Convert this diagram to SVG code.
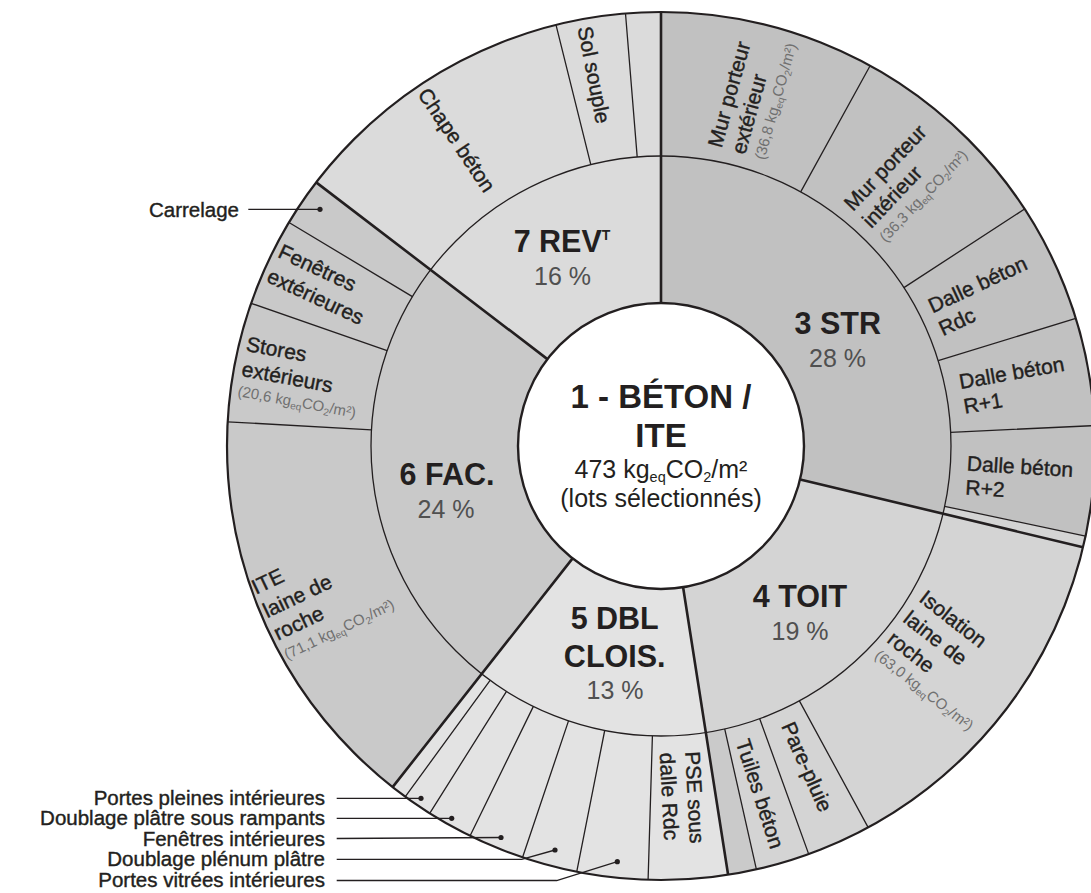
<svg xmlns="http://www.w3.org/2000/svg" width="1091" height="893" viewBox="0 0 1091 893">
<style>
text { font-family: "Liberation Sans", Arial, Helvetica, sans-serif; }
.s3 { fill:#c1c1c1; } .s4 { fill:#d4d4d4; } .s5 { fill:#e3e3e3; } .s6 { fill:#c9c9c9; } .s7 { fill:#dbdbdb; } .sx { fill:#cacaca; }
.ln { stroke:#231f20; stroke-width:1.3; fill:none; }
.tk { stroke:#231f20; stroke-width:2.6; fill:none; }
.ttl { font-size:30.5px; font-weight:bold; fill:#231f20; text-anchor:middle; }
.pct { font-size:25px; fill:#505050; text-anchor:middle; }
.lbl { font-size:21px; fill:#231f20; stroke:#231f20; stroke-width:0.4; }
.sm { font-size:15px; fill:#707070; stroke:none; }
.lg { font-size:20.5px; fill:#231f20; stroke:#231f20; stroke-width:0.4; text-anchor:end; }
.c1 { font-size:33px; font-weight:bold; fill:#231f20; text-anchor:middle; }
.c2 { font-size:25px; fill:#231f20; text-anchor:middle; }
.dot { fill:#231f20; }
</style>
<rect width="1091" height="893" fill="#ffffff"/>

<!-- outer ring segments -->
<g id="mur-ext"><path class="s3" d="M661 446 L661 12 A434 434 0 0 1 870.1 65.7 Z"/>
<g transform="translate(721.5 148.7) rotate(-74.5)"><text class="lbl" x="0" y="0">Mur porteur</text><text class="lbl" x="0" y="24.5">extérieur</text><text class="sm" x="0" y="44.5">(36,8 kg<tspan font-size="10" dy="3">eq</tspan><tspan dy="-3">CO</tspan><tspan font-size="10" dy="3">2</tspan><tspan dy="-3">/m²)</tspan></text></g></g>
<g id="mur-int"><path class="s3" d="M661 446 L870.1 65.7 A434 434 0 0 1 1024.6 209.0 Z"/>
<g transform="translate(853.1 211.9) rotate(-46.5)"><text class="lbl" x="0" y="0">Mur porteur</text><text class="lbl" x="0" y="25">intérieur</text><text class="sm" x="0" y="45">(36,3 kg<tspan font-size="10" dy="3">eq</tspan><tspan dy="-3">CO</tspan><tspan font-size="10" dy="3">2</tspan><tspan dy="-3">/m²)</tspan></text></g></g>
<g id="dalle-rdc"><path class="s3" d="M661 446 L1024.6 209.0 A434 434 0 0 1 1075.8 318.4 Z"/>
<g transform="translate(932.5 313.5) rotate(-25)"><text class="lbl" x="0" y="0">Dalle béton</text><text class="lbl" x="0" y="25">Rdc</text></g></g>
<g id="dalle-r1"><path class="s3" d="M661 446 L1075.8 318.4 A434 434 0 0 1 1094.5 425.6 Z"/>
<g transform="translate(960.6 389.1) rotate(-10)"><text class="lbl" x="0" y="0">Dalle béton</text><text class="lbl" x="0" y="25">R+1</text></g></g>
<g id="dalle-r2"><path class="s3" d="M661 446 L1094.5 425.6 A434 434 0 0 1 1085.5 536.2 Z"/>
<g transform="translate(966.5 470.5) rotate(3.5)"><text class="lbl" x="0" y="0">Dalle béton</text><text class="lbl" x="0" y="24">R+2</text></g></g>
<g id="str-sliver"><path class="s4" d="M661 446 L1085.5 536.2 A434 434 0 0 1 1083.0 547.3 Z"/></g>
<g id="isolation"><path class="s4" d="M661 446 L1083.0 547.3 A434 434 0 0 1 868.1 827.4 Z"/>
<g transform="translate(918.1 600.6) rotate(38)"><text class="lbl" x="0" y="0">Isolation</text><text class="lbl" x="0" y="26">laine de</text><text class="lbl" x="0" y="52">roche</text><text class="sm" x="0" y="72">(63,0 kg<tspan font-size="10" dy="3">eq</tspan><tspan dy="-3">CO</tspan><tspan font-size="10" dy="3">2</tspan><tspan dy="-3">/m²)</tspan></text></g></g>
<g id="pare-pluie"><path class="s4" d="M661 446 L868.1 827.4 A434 434 0 0 1 808.7 854.1 Z"/>
<g transform="translate(780.9 726.0) rotate(66)"><text class="lbl" x="0" y="0">Pare-pluie</text></g></g>
<g id="tuiles"><path class="s4" d="M661 446 L808.7 854.1 A434 434 0 0 1 756.4 869.4 Z"/>
<g transform="translate(735.6 742.0) rotate(72)"><text class="lbl" x="0" y="0">Tuiles béton</text></g></g>
<g id="toit-sliver"><path class="sx" d="M661 446 L756.4 869.4 A434 434 0 0 1 728.1 874.8 Z"/></g>
<g id="pse"><path class="s5" d="M661 446 L728.1 874.8 A434 434 0 0 1 648.1 879.8 Z"/>
<g transform="translate(685.2 751.7) rotate(87)"><text class="lbl" x="0" y="0">PSE sous</text><text class="lbl" x="0" y="25.5">dalle Rdc</text></g></g>
<g id="portes-vitrees"><path class="s5" d="M661 446 L648.1 879.8 A434 434 0 0 1 576.7 871.8 Z"/></g>
<g id="doublage-plenum"><path class="s5" d="M661 446 L576.7 871.8 A434 434 0 0 1 522.6 857.3 Z"/></g>
<g id="fenetres-int"><path class="s5" d="M661 446 L522.6 857.3 A434 434 0 0 1 470.1 835.7 Z"/></g>
<g id="doublage-rampants"><path class="s5" d="M661 446 L470.1 835.7 A434 434 0 0 1 429.7 813.3 Z"/></g>
<g id="portes-pleines"><path class="s5" d="M661 446 L429.7 813.3 A434 434 0 0 1 405.3 796.7 Z"/></g>
<g id="dbl-sliver"><path class="s5" d="M661 446 L405.3 796.7 A434 434 0 0 1 392.6 787.1 Z"/></g>
<g id="ite"><path class="s6" d="M661 446 L392.6 787.1 A434 434 0 0 1 227.7 421.8 Z"/>
<g transform="translate(256.1 594.8) rotate(-25.5)"><text class="lbl" x="0" y="0">ITE</text><text class="lbl" x="0" y="26">laine de</text><text class="lbl" x="0" y="51">roche</text><text class="sm" x="0" y="72">(71,1 kg<tspan font-size="10" dy="3">eq</tspan><tspan dy="-3">CO</tspan><tspan font-size="10" dy="3">2</tspan><tspan dy="-3">/m²)</tspan></text></g></g>
<g id="stores"><path class="s6" d="M661 446 L227.7 421.8 A434 434 0 0 1 251.1 303.3 Z"/>
<g transform="translate(245.3 350.7) rotate(10.5)"><text class="lbl" x="0" y="0">Stores</text><text class="lbl" x="0" y="25.5">extérieurs</text><text class="sm" x="0" y="46">(20,6 kg<tspan font-size="10" dy="3">eq</tspan><tspan dy="-3">CO</tspan><tspan font-size="10" dy="3">2</tspan><tspan dy="-3">/m²)</tspan></text></g></g>
<g id="fenetres-ext"><path class="s6" d="M661 446 L251.1 303.3 A434 434 0 0 1 289.0 222.5 Z"/>
<g transform="translate(276.8 256.8) rotate(25)"><text class="lbl" x="0" y="0">Fenêtres</text><text class="lbl" x="0" y="27">extérieures</text></g></g>
<g id="carrelage"><path class="s6" d="M661 446 L289.0 222.5 A434 434 0 0 1 316.2 182.4 Z"/></g>
<g id="chape"><path class="s7" d="M661 446 L316.2 182.4 A434 434 0 0 1 556.0 24.9 Z"/>
<g transform="translate(417.1 94.2) rotate(56)"><text class="lbl" x="0" y="0">Chape béton</text></g></g>
<g id="sol-souple"><path class="s7" d="M661 446 L556.0 24.9 A434 434 0 0 1 625.5 13.5 Z"/>
<g transform="translate(577.6 28.1) rotate(79)"><text class="lbl" x="0" y="0">Sol souple</text></g></g>
<g id="rev-sliver"><path class="s7" d="M661 446 L625.5 13.5 A434 434 0 0 1 661 12 Z"/></g>

<!-- inner ring sectors -->
<g id="str"><path class="s3" d="M661 446 L661 156 A290 290 0 0 1 943.0 513.7 Z"/>
<text class="ttl" x="837.7" y="334">3 STR</text><text class="pct" x="837.5" y="366.7">28 %</text></g>
<g id="toit"><path class="s4" d="M661 446 L943.0 513.7 A290 290 0 0 1 705.9 732.5 Z"/>
<text class="ttl" x="800" y="607">4 TOIT</text><text class="pct" x="800" y="640">19 %</text></g>
<g id="dbl"><path class="s5" d="M661 446 L705.9 732.5 A290 290 0 0 1 481.7 673.9 Z"/>
<text class="ttl" x="614.7" y="629">5 DBL</text><text class="ttl" x="614.7" y="667">CLOIS.</text><text class="pct" x="615" y="699">13 %</text></g>
<g id="fac"><path class="s6" d="M661 446 L481.7 673.9 A290 290 0 0 1 430.6 269.9 Z"/>
<text class="ttl" x="447" y="485">6 FAC.</text><text class="pct" x="446" y="518">24 %</text></g>
<g id="rev"><path class="s7" d="M661 446 L430.6 269.9 A290 290 0 0 1 661 156 Z"/>
<text class="ttl" x="562" y="252">7 REV<tspan font-size="14" dy="-12">T</tspan></text><text class="pct" x="562.5" y="285">16 %</text></g>

<!-- boundaries -->
<g id="boundaries">
<circle class="ln" cx="661" cy="446" r="290"/>
<circle cx="661" cy="446" r="434" fill="none" stroke="#231f20" stroke-width="2.2"/>
<path class="ln" d="M800.7 191.9 L870.1 65.7 M903.9 287.6 L1024.6 209.0 M938.2 360.7 L1075.8 318.4 M950.7 432.3 L1094.5 425.6 M944.6 506.3 L1085.5 536.2 M799.4 700.9 L868.1 827.4 M759.7 718.7 L808.7 854.1 M724.7 728.9 L756.4 869.4 M652.4 735.9 L648.1 879.8 M604.7 730.5 L576.7 871.8 M568.5 720.9 L522.6 857.3 M533.4 706.4 L470.1 835.7 M506.5 691.4 L429.7 813.3 M490.1 680.3 L405.3 796.7 M371.5 429.8 L227.7 421.8 M387.1 350.6 L251.1 303.3 M412.4 296.6 L289.0 222.5 M590.8 164.6 L556.0 24.9 M637.2 157.0 L625.5 13.5"/>
<path class="tk" d="M661 303 L661 12 M800.1 479.4 L1083.0 547.3 M683.1 587.3 L728.1 874.8 M572.6 558.4 L392.6 787.1 M547.4 359.1 L316.2 182.4"/>
</g>

<!-- center -->
<g id="center">
<circle cx="661" cy="446" r="143" fill="#ffffff" stroke="#231f20" stroke-width="2.4"/>
<text class="c1" x="661" y="408">1 - BÉTON /</text>
<text class="c1" x="661" y="447">ITE</text>
<text class="c2" x="661" y="478">473 kg<tspan font-size="14.5" dy="4">eq</tspan><tspan dy="-4">CO</tspan><tspan font-size="14.5" dy="4">2</tspan><tspan dy="-4">/m²</tspan></text>
<text class="c2" x="661" y="507">(lots sélectionnés)</text>
</g>

<!-- callout labels -->
<g id="labels">
<text class="lg" x="325" y="216.5" dx="-86">Carrelage</text>
<text class="lg" x="325" y="805">Portes pleines intérieures</text>
<text class="lg" x="325" y="825">Doublage plâtre sous rampants</text>
<text class="lg" x="325" y="845.5">Fenêtres intérieures</text>
<text class="lg" x="325" y="866">Doublage plénum plâtre</text>
<text class="lg" x="325" y="887">Portes vitrées intérieures</text>
</g>

<g id="connectors">
<polyline class="ln" points="248.3,209.3 320,209.3"/><circle class="dot" cx="320" cy="209.3" r="2.6"/>
<polyline class="ln" points="336.7,798.3 421,798.3"/><circle class="dot" cx="421" cy="798.3" r="2.6"/>
<polyline class="ln" points="336.7,818.3 451.7,818.3"/><circle class="dot" cx="451.7" cy="818.3" r="2.6"/>
<polyline class="ln" points="336.7,838.5 501,837.5"/><circle class="dot" cx="501" cy="837.5" r="2.6"/>
<polyline class="ln" points="336.7,859.3 521.7,859.3 555,850"/><circle class="dot" cx="555" cy="850" r="2.6"/>
<polyline class="ln" points="336.7,880.5 556.7,880.5 617.3,861.7"/><circle class="dot" cx="617.3" cy="861.7" r="2.6"/>
</g>
</svg>
